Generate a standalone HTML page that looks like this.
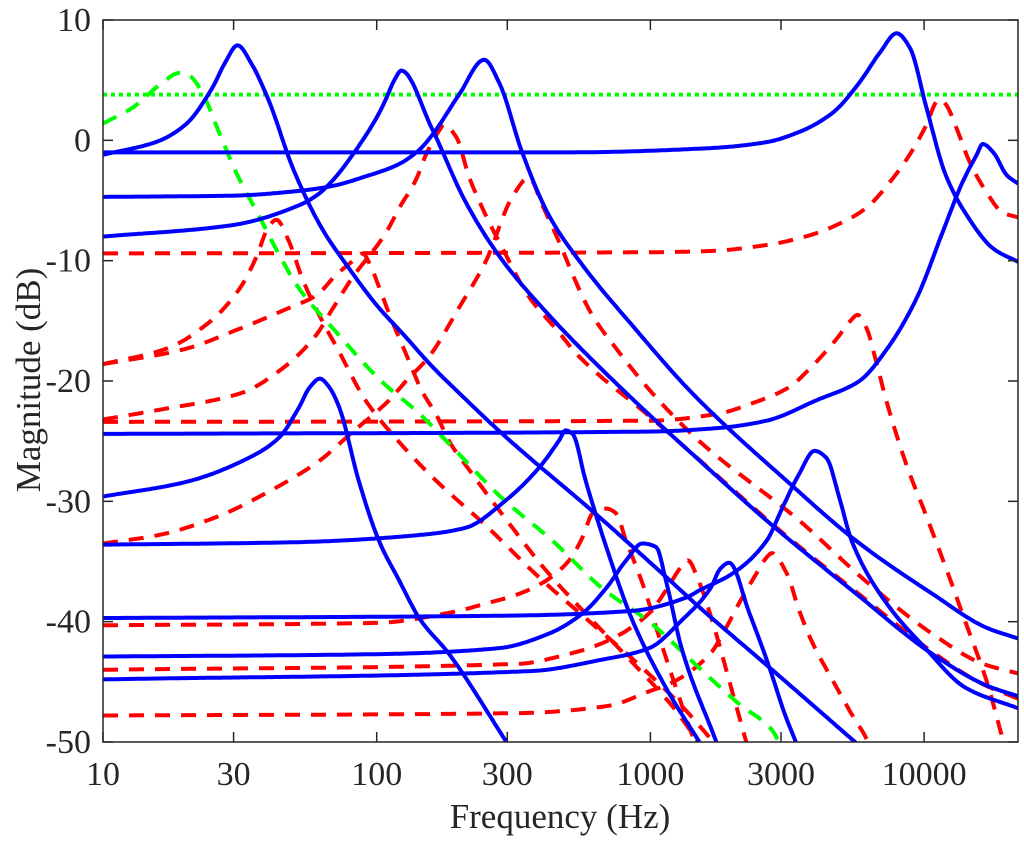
<!DOCTYPE html>
<html><head><meta charset="utf-8"><style>
html,body{margin:0;padding:0;background:#fff;}
svg{display:block;font-family:"Liberation Serif",serif;}
</style></head><body>
<svg id="chart" width="1024" height="841" viewBox="0 0 1024 841" xmlns="http://www.w3.org/2000/svg">
<defs><clipPath id="plotclip"><rect x="103" y="20" width="915" height="722"/></clipPath></defs>
<rect x="0" y="0" width="1024" height="841" fill="#fff"/>
<g id="series" clip-path="url(#plotclip)"></g>
<g id="axes"></g>
<text x="560" y="828" font-size="35" text-anchor="middle" fill="#262626">Frequency (Hz)</text>
<text x="0" y="0" font-size="35" text-anchor="middle" fill="#262626" transform="translate(40,380) rotate(-90)">Magnitude (dB)</text>
</svg>
<script>
const xTicks = [10, 30, 100, 300, 1000, 3000, 10000];
const xTickLabels = ["10", "30", "100", "300", "1000", "3000", "10000"];
const yTicks = [10, 0, -10, -20, -30, -40, -50];
const yTickLabels = ["10", "0", "-10", "-20", "-30", "-40", "-50"];

const b1F = [10,15.8,20,25,28,31,35,40,50,63,79,100,126,158,200,288,650,1143,1510,2720,5660];
const b1D = [-1.2,-0.1,1.3,4.3,6.5,7.9,6.3,3.5,-2.6,-7.3,-10.6,-13.7,-16.2,-18.7,-21,-24.4,-31.3,-36.3,-38.8,-43.8,-50.1];
const b2F = [10,29.6,52,61,68.6,84,100,108,116,123,159,211,280,425,816,1510,2723,5660,10740,16900,22050];
const b2D = [-8,-7.05,-5.4,-4.5,-3.4,-0.8,1.9,3.4,5.0,5.8,1.0,-5.1,-9.6,-14.5,-21,-26.6,-31.8,-37.7,-42.7,-45.3,-46.2];
const b3F = [10,29.6,52,68.6,91,120,143,159,200,247,280,340,425,566,860,1420,3220,5660,10740,16900,22050];
const b3D = [-4.7,-4.6,-4.2,-3.8,-3.0,-2.0,-0.8,0.4,3.8,6.7,4.8,-1.0,-6.2,-10.4,-15.4,-21,-28.5,-33.3,-37.7,-40.5,-41.4];
const b4F = [10,500,1640,2654,3500,4640,5800,6900,7940,8870,10200,12000,14300,17900,22050];
const b4D = [-1.0,-1.0,-0.65,-0.15,0.7,2.3,4.8,7.3,8.9,7.7,2.7,-2.9,-6.2,-9,-10.1];
const b5F = [10,1000,1786,2654,4045,5800,7340,9400,11700,13800,15560,16370,17900,20050,22050];
const b5D = [-24.4,-24.2,-23.9,-23.3,-21.6,-20,-17.3,-13.1,-7.6,-3.5,-1.2,-0.3,-1.0,-2.9,-3.6];
const b6F = [10,20,34,44,52,57,62,67,73,86,102,121,143,184,298];
const b6D = [-29.6,-28.4,-26.4,-24.7,-22.2,-20.5,-19.8,-20.5,-22.2,-28.3,-33.3,-36.6,-39.7,-42.7,-50];
const b7F = [10,50,143,211,297,392,465,490,520,580,690,860,1140,1510];
const b7D = [-33.6,-33.4,-32.8,-32.2,-29.9,-27.2,-24.9,-24.1,-24.4,-28.3,-33.8,-39.9,-45.5,-50];
const b8F = [10,300,860,1350,1510,1995,2654,3040,3500,3980,4400,4900,5440,7200,10100,14200,22050];
const b8D = [-39.7,-39.5,-39.1,-38,-37.4,-36,-33.3,-30.5,-27.7,-25.8,-26.4,-29.7,-33.3,-38.3,-42.2,-45.5,-47.2];
const b9F = [10,100,280,425,566,690,816,935,1050,1140,1300,1742];
const b9D = [-42.9,-42.7,-42.2,-41,-39.3,-37.2,-34.9,-33.5,-33.8,-36.6,-42.2,-50];
const b10F = [10,370,650,990,1300,1660,1800,1940,2300,2720,3100,3400];
const b10D = [-44.8,-44.1,-43.2,-42.2,-39.9,-37.2,-35.6,-35.1,-39.3,-43.8,-47.7,-50];

const r1F = [10,1000,1640,2654,3810,5040,6160,7480,8850,10200,11100,11500,12080,13140,14670,16900,19350,22050];
const r1D = [-9.4,-9.3,-9.2,-8.7,-7.9,-6.8,-5.6,-3.5,-1.2,1.3,3.2,3.4,2.9,1.0,-1.8,-4.3,-6,-6.4];
const r2F = [10,17.1,24.5,31.6,36.5,40,43,48,53.5,61.6,73,91,120,160,250,400,600,900,1300,1700];
const r2D = [-18.6,-17.3,-15.1,-12.3,-9.6,-7.3,-6.6,-8.5,-11.5,-14.5,-17.6,-21.6,-25,-28,-32,-36.5,-40,-43.5,-47,-50];
const r3F = [10,19.5,32,47,60,71,81,89,94,102,111,131,146,165,185,218,297,414,613,860,1200,1500];
const r3D = [-18.6,-17.4,-15.6,-14,-12.9,-11.2,-10.1,-9.4,-10.2,-12.2,-14.4,-18.3,-20.8,-22.8,-25.1,-27.4,-31.5,-35.7,-39.9,-43.4,-47,-50];
const r4F = [10,16,32,45,60,69,81,108,121,139,152,169,176,195,218,243,287,360,465,535,1000,1500,3000,6000,10700,16400,22050];
const r4D = [-23.2,-22.4,-21,-19,-16.2,-14,-11.5,-7.7,-5.6,-3.3,-1.1,0.8,1.3,0.3,-3.1,-5.6,-8.9,-13,-16,-17.7,-23,-26.5,-32.5,-38,-42.5,-45.2,-46.4];
const r5F = [10,16,26,41,62,81,111,128,155,200,251,313,360,403,465,535,612,750,1015,1510,3500,6100,10700,16400,22050];
const r5D = [-33.5,-32.8,-31.3,-29.1,-26.6,-24.3,-21.6,-20,-18,-13.9,-10,-4.7,-3.1,-5.4,-8.5,-11.8,-14.5,-17.3,-21,-25,-31.6,-36.6,-41,-43.5,-44.3];
const r6F = [10,1000,1786,2320,3220,3810,4790,5340,5710,6160,6700,7270,8600,10100,12000,14300,16900,19500];
const r6D = [-23.4,-23.3,-22.7,-21.9,-20.5,-19,-16.5,-15.1,-14.5,-15.6,-18.5,-21.6,-26.9,-31,-35.5,-40.3,-44.9,-50];
const r7F = [10,100,190,250,330,415,505,565,615,690,750,815,890,965,1050,1140,1240,1450];
const r7D = [-40.3,-40.1,-39.2,-38.5,-37.7,-36.6,-34.9,-33,-31,-30.6,-31,-33.3,-35.5,-37.7,-40.5,-43,-45.5,-50];
const r8F = [10,330,500,665,990,1140,1290,1370,1500,1650,1800,1940,2100,2240];
const r8D = [-44,-43.5,-42.7,-41.8,-39.3,-37.4,-35.5,-34.9,-36.6,-39.3,-42.2,-44.9,-47.7,-50];
const r9F = [10,330,700,1015,1140,1650,1890,2140,2440,2650,2780,3150,3500,3880,4640,5440,6150,6500];
const r9D = [-47.8,-47.6,-47,-45.7,-45.3,-42.7,-40.5,-38.2,-36,-34.7,-34.3,-36,-39.1,-41.6,-44.9,-47.7,-49.7,-51];

const gF = [10,12.8,16.1,19,20.6,23,26.5,31,37,44,52,69,105,143,189,286,440,665,1015,1500,2100,2780,2950];
const gD = [1.4,2.7,4.6,5.6,5.4,4,0.7,-2.9,-6.2,-9.5,-12.3,-15.6,-20.1,-22.7,-25.5,-29.7,-33.3,-37.2,-40.2,-43.8,-46.8,-49,-50];
const refF = [10, 22050];
const refD = [3.8, 3.8];

const NS = "http://www.w3.org/2000/svg";
const X0 = 103, X1 = 1018, Y0 = 20, Y1 = 742;
const DEC = 273.7, DBPX = (Y1 - Y0) / 60;
function xs(f){ return X0 + (Math.log10(f) - 1) * DEC; }
function ys(d){ return Y0 + (10 - d) * DBPX; }

function pathFrom(F, D){
  const px = F.map(xs), py = D.map(ys), n = px.length;
  if (n < 3) return "M"+px[0]+","+py[0]+" L"+px[n-1]+","+py[n-1];
  const h = [], s = [];
  for (let i=0;i<n-1;i++){ h.push(px[i+1]-px[i]); s.push((py[i+1]-py[i])/h[i]); }
  const m = new Array(n);
  m[0] = s[0]; m[n-1] = s[n-2];
  for (let i=1;i<n-1;i++){
    if (s[i-1]*s[i] <= 0) m[i] = 0;
    else {
      const w1 = 2*h[i]+h[i-1], w2 = h[i]+2*h[i-1];
      m[i] = (w1+w2)/(w1/s[i-1]+w2/s[i]);
    }
  }
  let out = "M"+px[0].toFixed(1)+","+py[0].toFixed(1);
  for (let i=0;i<n-1;i++){
    const steps = Math.max(2, Math.ceil(h[i]/2));
    for (let k=1;k<=steps;k++){
      const t = k/steps, t2=t*t, t3=t2*t;
      const y = (2*t3-3*t2+1)*py[i] + (t3-2*t2+t)*h[i]*m[i] + (-2*t3+3*t2)*py[i+1] + (t3-t2)*h[i]*m[i+1];
      out += " L"+(px[i]+t*h[i]).toFixed(1)+","+y.toFixed(1);
    }
  }
  return out;
}
const g = document.getElementById("series");
function addCurve(F, D, color, dash, name){
  const el = document.createElementNS(NS, "path");
  el.setAttribute("d", pathFrom(F, D));
  el.setAttribute("fill", "none");
  el.setAttribute("stroke", color);
  el.setAttribute("stroke-width", "4");
  el.setAttribute("stroke-linejoin", "round");
  if (dash) el.setAttribute("stroke-dasharray", dash);
  
  
  g.appendChild(el);
}
const RED = "#ff0000", BLUE = "#0000ff", GREEN = "#00ff00";
addCurve(r1F, r1D, RED, "15 11", "red-dashed-curve-1");
addCurve(r2F, r2D, RED, "15 11", "red-dashed-curve-2");
addCurve(r3F, r3D, RED, "15 11", "red-dashed-curve-3");
addCurve(r4F, r4D, RED, "15 11", "red-dashed-curve-4");
addCurve(r5F, r5D, RED, "15 11", "red-dashed-curve-5");
addCurve(r6F, r6D, RED, "15 11", "red-dashed-curve-6");
addCurve(r7F, r7D, RED, "15 11", "red-dashed-curve-7");
addCurve(r8F, r8D, RED, "15 11", "red-dashed-curve-8");
addCurve(r9F, r9D, RED, "15 11", "red-dashed-curve-9");
addCurve(gF, gD, GREEN, "15 11", "green-dashed-curve");
addCurve(refF, refD, GREEN, "4 4", "green-dotted-reference");
addCurve(b1F, b1D, BLUE, null, "blue-curve-1");
addCurve(b2F, b2D, BLUE, null, "blue-curve-2");
addCurve(b3F, b3D, BLUE, null, "blue-curve-3");
addCurve(b4F, b4D, BLUE, null, "blue-curve-4");
addCurve(b5F, b5D, BLUE, null, "blue-curve-5");
addCurve(b6F, b6D, BLUE, null, "blue-curve-6");
addCurve(b7F, b7D, BLUE, null, "blue-curve-7");
addCurve(b8F, b8D, BLUE, null, "blue-curve-8");
addCurve(b9F, b9D, BLUE, null, "blue-curve-9");
addCurve(b10F, b10D, BLUE, null, "blue-curve-10");

const ax = document.getElementById("axes");
function line(x1,y1,x2,y2,name){
  const l = document.createElementNS(NS,"line");
  l.setAttribute("x1",x1); l.setAttribute("y1",y1); l.setAttribute("x2",x2); l.setAttribute("y2",y2);
  l.setAttribute("stroke","#262626"); l.setAttribute("stroke-width","1.5");
  
  
  ax.appendChild(l);
}
function text(x,y,s,anchor,name){
  const t = document.createElementNS(NS,"text");
  t.setAttribute("x",x); t.setAttribute("y",y); t.setAttribute("font-size","34");
  t.setAttribute("text-anchor",anchor); t.setAttribute("fill","#262626");
  t.textContent = s;
  
  
  ax.appendChild(t);
}
const box = document.createElementNS(NS,"rect");
box.setAttribute("x",X0); box.setAttribute("y",Y0); box.setAttribute("width",X1-X0); box.setAttribute("height",Y1-Y0);
box.setAttribute("fill","none"); box.setAttribute("stroke","#262626"); box.setAttribute("stroke-width","1.5");


ax.appendChild(box);
xTicks.forEach((f,i)=>{
  const x = xs(f);
  line(x,Y1,x,Y1-10,"x-tick");
  line(x,Y0,x,Y0+10,"x-tick-top");
  text(x,785,xTickLabels[i],"middle","x-tick-label");
});
yTicks.forEach((d,i)=>{
  const y = ys(d);
  line(X0,y,X0+10,y,"y-tick");
  line(X1,y,X1-10,y,"y-tick-right");
  text(91,y+11,yTickLabels[i],"end","y-tick-label");
});
</script>
</body></html>
